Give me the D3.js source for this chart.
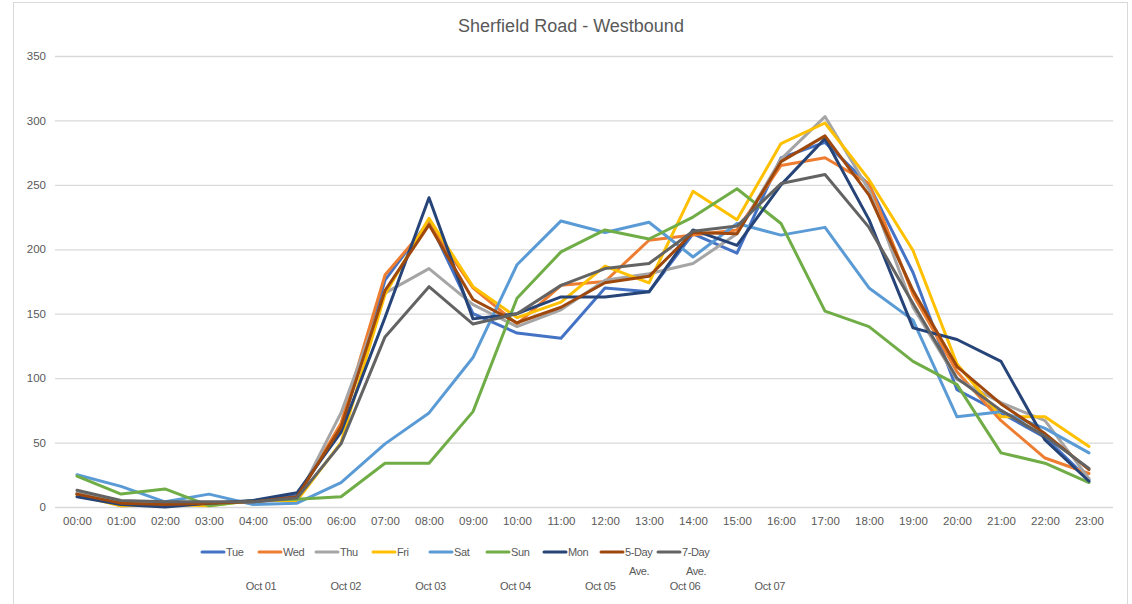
<!DOCTYPE html>
<html>
<head>
<meta charset="utf-8">
<script src="https://cdn.jsdelivr.net/npm/d3@7/dist/d3.min.js"></script>
<style>
  html, body { margin: 0; padding: 0; background: #fff; }
  svg { display: block; font-family: "Liberation Sans", "DejaVu Sans", sans-serif; }
</style>
</head>
<body>
<svg id="chart" width="1132" height="604"></svg>
<script>
// Hourly traffic counts, Sherfield Road westbound
const hours = ["00:00","01:00","02:00","03:00","04:00","05:00","06:00","07:00","08:00","09:00","10:00","11:00",
               "12:00","13:00","14:00","15:00","16:00","17:00","18:00","19:00","20:00","21:00","22:00","23:00"];

const tue  = [10, 3, 2, 3, 4, 9, 60, 176, 222, 150, 135, 131, 170, 167, 212, 197, 271, 283, 250, 182, 91, 73, 54, 21];
const wed  = [10, 1, 2, 3, 4, 7, 65, 180, 220, 170, 142, 172, 175, 207, 211, 215, 265, 271, 251, 165, 105, 67, 38, 26];
const thu  = [11, 4, 3, 3, 4, 6, 73, 166, 185, 157, 140, 153, 176, 181, 189, 212, 270, 303, 246, 155, 99, 81, 67, 22];
const fri  = [9, 1, 2, 1, 5, 5, 50, 165, 224, 171, 147, 159, 187, 174, 245, 223, 282, 298, 254, 199, 111, 70, 70, 47];
const sat  = [25, 16, 4, 10, 2, 3, 19, 49, 73, 116, 188, 222, 213, 221, 194, 220, 211, 217, 170, 145, 70, 74, 61, 42];
const sun  = [24, 10, 14, 1, 5, 6, 8, 34, 34, 74, 162, 198, 215, 208, 225, 247, 220, 152, 140, 113, 95, 42, 34, 19];
const mon  = [8, 2, 0, 3, 5, 11, 58, 147, 240, 146, 150, 163, 163, 167, 215, 203, 250, 286, 223, 139, 130, 113, 52, 20];
const avg5 = [10, 3, 2, 3, 4, 8, 62, 168, 219, 161, 143, 155, 174, 179, 213, 212, 268, 288, 242, 168, 109, 80, 57, 29];
const avg7 = [13, 5, 4, 4, 4, 7, 49, 132, 171, 142, 150, 172, 185, 189, 214, 218, 251, 258, 217, 158, 100, 75, 55, 30];

const seriesNames = ["Tue", "Wed", "Thu", "Fri", "Sat", "Sun", "Mon", "5-Day Ave.", "7-Day Ave."];
const seriesValues = [tue, wed, thu, fri, sat, sun, mon, avg5, avg7];
const seriesColors = ["#4472C4", "#ED7D31", "#A5A5A5", "#FFC000", "#5B9BD5", "#70AD47", "#264478", "#9E480E", "#636363"];
const dateLabels = ["Oct 01", "Oct 02", "Oct 03", "Oct 04", "Oct 05", "Oct 06", "Oct 07"];
const yTicks = [0, 50, 100, 150, 200, 250, 300, 350];

const svg = d3.select("#chart");
const textColor = "#595959";
const gridColor = "#D9D9D9";

// outer chart frame
svg.append("rect")
  .attr("x", 13.5).attr("y", 2.5)
  .attr("width", 1114).attr("height", 610)
  .attr("fill", "#fff").attr("stroke", gridColor).attr("stroke-width", 1);

const plot = { left: 55, right: 1111, top: 56, bottom: 507 };

const x = d3.scalePoint()
  .domain(hours)
  .range([plot.left, plot.right])
  .padding(0.5);

const y = d3.scaleLinear()
  .domain([0, 350])
  .range([plot.bottom, plot.top]);

// title
svg.append("text")
  .attr("x", 571).attr("y", 32)
  .attr("text-anchor", "middle")
  .attr("fill", textColor)
  .attr("font-size", 18)
  .text("Sherfield Road - Westbound");

// horizontal gridlines and value axis labels
const yAxis = d3.axisLeft(y)
  .tickValues(yTicks)
  .tickSize(-(plot.right + 2 - plot.left))
  .tickPadding(9);

const yg = svg.append("g")
  .attr("transform", `translate(${plot.left},0)`)
  .call(yAxis);
yg.select(".domain").remove();
yg.selectAll(".tick line").attr("stroke", gridColor).attr("stroke-width", 1.3);
yg.selectAll(".tick text")
  .attr("fill", textColor)
  .attr("font-size", 11.5)
  .attr("font-family", "Liberation Sans, sans-serif");

// category axis labels
const xAxis = d3.axisBottom(x).tickSize(0).tickPadding(10);
const xg = svg.append("g")
  .attr("transform", `translate(0,${plot.bottom})`)
  .call(xAxis);
xg.select(".domain").remove();
xg.selectAll(".tick text")
  .attr("fill", textColor)
  .attr("font-size", 11.5)
  .attr("font-family", "Liberation Sans, sans-serif");

// series lines
const line = d3.line()
  .x((d, i) => x(hours[i]))
  .y(d => y(d));

svg.append("g")
  .selectAll("path")
  .data(seriesValues)
  .join("path")
  .attr("d", d => line(d))
  .attr("fill", "none")
  .attr("stroke", (d, i) => seriesColors[i])
  .attr("stroke-width", 3)
  .attr("stroke-linejoin", "round")
  .attr("stroke-linecap", "round");

// legend
const legendX0 = 202, legendStep = 57, legendY = 552;
const legend = svg.append("g")
  .selectAll("g")
  .data(seriesNames)
  .join("g")
  .attr("transform", (d, i) => `translate(${legendX0 + i * legendStep},${legendY})`);

legend.append("line")
  .attr("x1", 0).attr("x2", 22)
  .attr("y1", 0).attr("y2", 0)
  .attr("stroke", (d, i) => seriesColors[i])
  .attr("stroke-width", 3)
  .attr("stroke-linecap", "round");

legend.each(function (d) {
  const parts = d.split(" ");
  const t = d3.select(this).append("text")
    .attr("x", 24).attr("y", 4)
    .attr("fill", textColor)
    .attr("font-size", 11)
    .attr("letter-spacing", -0.4);
  t.append("tspan").attr("x", 24).text(parts[0]);
  if (parts.length > 1) {
    t.append("tspan").attr("x", 28).attr("dy", 19).text(parts.slice(1).join(" "));
  }
});

// date labels beneath the legend
svg.append("g")
  .selectAll("text")
  .data(dateLabels)
  .join("text")
  .attr("x", (d, i) => 261 + i * 84.8)
  .attr("y", 590)
  .attr("text-anchor", "middle")
  .attr("fill", textColor)
  .attr("font-size", 11)
  .attr("letter-spacing", -0.3)
  .text(d => d);
</script>
</body>
</html>
